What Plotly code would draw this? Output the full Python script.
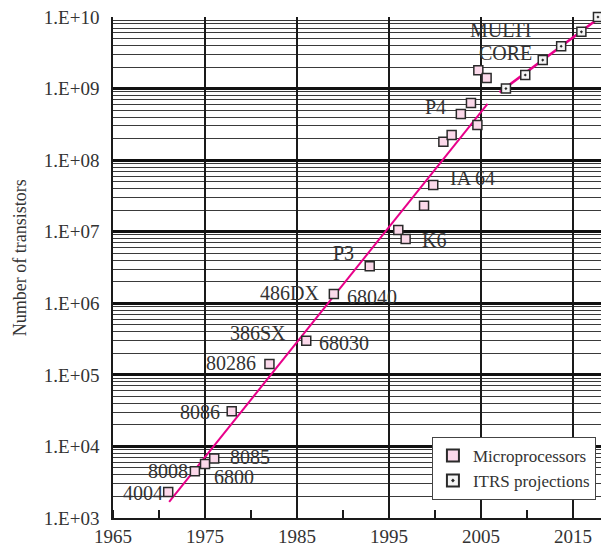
import plotly.graph_objects as go

# ---- data ----
micro_years = [1971.0, 1973.9, 1975.0, 1976.0, 1977.9, 1982.0, 1986.0, 1989.0, 1992.9,
               1996.0, 1996.8, 1998.8, 1999.8, 2000.9, 2001.8, 2002.8, 2003.9, 2004.6,
               2004.7, 2005.6]
micro_counts = [2300, 4500, 5700, 6800, 31000, 142000, 300000, 1350000, 3300000,
                10600000, 7900000, 23000000, 45000000, 180000000, 225000000, 440000000,
                630000000, 310000000, 1800000000, 1400000000]

itrs_years = [2007.7, 2009.8, 2011.7, 2013.7, 2015.9, 2017.7]
itrs_counts = [1.0e9, 1.55e9, 2.5e9, 3.9e9, 6.2e9, 1.0e10]

trend1_years = [1971.1, 2005.7]
trend1_counts = [1680, 6.1e8]
trend2_years = [2007.0, 2017.6]
trend2_counts = [8.9e8, 9.2e9]

chip_labels = ["4004", "8008", "8085", "6800", "8086", "80286", "386SX", "68030",
               "486DX", "68040", "P3", "K6", "IA 64", "P4", "MULTI", "CORE"]
label_years = [1970.65, 1973.4, 1977.5, 1975.8, 1976.85, 1980.76, 1984.0, 1987.2,
               1987.6, 1990.2, 1991.4, 1998.4, 2001.4, 2001.4, 2003.6, 2004.6]
label_logs = [3.35, 3.66, 3.855, 3.575, 4.483, 5.168, 5.587, 5.447,
              6.145, 6.09, 6.70, 6.885, 7.751, 8.743, 9.818, 9.497]
label_sides = ["right", "right", "left", "left", "right", "right", "right", "left",
               "right", "left", "right", "left", "left", "right", "left", "left"]

x_ticks = [1965, 1975, 1985, 1995, 2005, 2015]
y_ticks = [1e3, 1e4, 1e5, 1e6, 1e7, 1e8, 1e9, 1e10]
y_ticktext = ["1.E+03", "1.E+04", "1.E+05", "1.E+06", "1.E+07", "1.E+08", "1.E+09", "1.E+10"]

FONT = "Liberation Serif"
TXT = "#333333"
MAGENTA = "#e8008a"

fig = go.Figure()

fig.add_trace(go.Scatter(x=trend1_years, y=trend1_counts, mode="lines",
                         line=dict(color=MAGENTA, width=2), showlegend=False,
                         hoverinfo="skip"))
fig.add_trace(go.Scatter(x=trend2_years, y=trend2_counts, mode="lines",
                         line=dict(color=MAGENTA, width=2.5), showlegend=False,
                         hoverinfo="skip"))
fig.add_trace(go.Scatter(x=micro_years, y=micro_counts, mode="markers",
                         name="Microprocessors", cliponaxis=False,
                         marker=dict(symbol="square", size=9, color="#fbd9ea",
                                     line=dict(color="#2a2a2a", width=1.5))))
fig.add_trace(go.Scatter(x=itrs_years, y=itrs_counts, mode="markers",
                         name="ITRS projections", cliponaxis=False,
                         marker=dict(symbol="square-dot", size=9, color="#f4f4f4",
                                     line=dict(color="#2a2a2a", width=1.5))))

for t, yr, lg, side in zip(chip_labels, label_years, label_logs, label_sides):
    fig.add_annotation(x=yr, y=lg, text=t, showarrow=False, xanchor=side,
                       yanchor="middle", font=dict(family=FONT, size=20, color=TXT))

fig.add_annotation(xref="paper", yref="paper", x=-0.186, y=0.52,
                   text="Number of transistors", textangle=-90, showarrow=False,
                   xanchor="center", yanchor="middle",
                   font=dict(family=FONT, size=18, color=TXT))

fig.update_xaxes(range=[1965, 2018.9], tickvals=x_ticks,
                 ticktext=[str(v) for v in x_ticks], automargin=False,
                 ticklabeloverflow="allow",
                 showgrid=True, gridcolor="#1a1a1a", gridwidth=1.5,
                 showline=True, linecolor="#1a1a1a", linewidth=1.5,
                 ticks="", zeroline=False,
                 tickfont=dict(family=FONT, size=19, color=TXT),
                 minor=dict(tick0=1965, dtick=5, ticks="inside", ticklen=8,
                            tickcolor="#1a1a1a", tickwidth=1.5, showgrid=False))
fig.update_yaxes(type="log", range=[3, 10], tickvals=y_ticks, ticktext=y_ticktext,
                 automargin=False, ticklabeloverflow="allow",
                 showgrid=True, gridcolor="#111111", gridwidth=2.5,
                 showline=True, linecolor="#1a1a1a", linewidth=1.5,
                 ticks="", zeroline=False, ticklabelstandoff=8,
                 tickfont=dict(family=FONT, size=19, color=TXT),
                 minor=dict(dtick="D1", showgrid=True, gridcolor="#3a3a3a",
                            gridwidth=1, ticks=""))

# page body has an 8px default margin, so the figure is sized to fit the window
fig.update_layout(
    width=601, height=538,
    margin=dict(l=105, r=0, t=9, b=28, autoexpand=False),
    paper_bgcolor="white", plot_bgcolor="white",
    font=dict(family=FONT, color=TXT),
    legend=dict(x=0.643, y=0.162, xanchor="left", yanchor="top",
                bgcolor="white", bordercolor="#444444", borderwidth=1,
                font=dict(family=FONT, size=17, color=TXT),
                itemsizing="constant"),
)

fig.write_html("out.html")
